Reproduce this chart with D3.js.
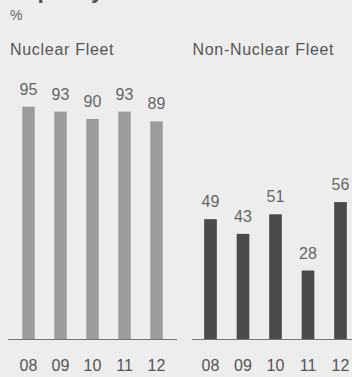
<!DOCTYPE html>
<html>
<head>
<meta charset="utf-8">
<script src="https://cdn.jsdelivr.net/npm/d3@7"></script>
<style>
  html, body { margin: 0; padding: 0; background: #ededed; }
  svg { display: block; }
  text { font-family: "Liberation Sans", Arial, sans-serif; }
</style>
</head>
<body>
<svg id="chart" width="352" height="377"></svg>
<script>
const years = ["08", "09", "10", "11", "12"];
const nuclearValues = [95, 93, 90, 93, 89];
const nonNuclearValues = [49, 43, 51, 28, 56];
const chartTitle = "Capacity Factors";
const unitLabel = "%";
const panelTitles = ["Nuclear Fleet", "Non-Nuclear Fleet"];

const svg = d3.select("#chart");
const W = 352, H = 377;

svg.append("rect").attr("width", W).attr("height", H).attr("fill", "#ededed");

// title clipped by the top edge, as in the reference
svg.append("text")
  .attr("x", 8).attr("y", -2.5)
  .attr("font-size", 23).attr("font-weight", "bold")
  .attr("fill", "#555")
  .text(chartTitle);

svg.append("text")
  .attr("x", 10).attr("y", 20)
  .attr("font-size", 14).attr("fill", "#666")
  .text(unitLabel);

const y = d3.scaleLinear().domain([0, 100]).range([339, 94.5]);

const panels = [
  { title: panelTitles[0], values: nuclearValues, color: "#9b9b9b",
    range: [12.5, 172.5], axis: [8, 177], titleX: 10 },
  { title: panelTitles[1], values: nonNuclearValues, color: "#4a4a4a",
    range: [194.25, 356.75], axis: [192, 352], titleX: 192.5 }
];

panels.forEach(p => {
  const x = d3.scaleBand().domain(years).range(p.range)
    .paddingInner(0.61).paddingOuter(0.305);
  const g = svg.append("g");

  g.append("text")
    .attr("x", p.titleX).attr("y", 55)
    .attr("font-size", 16).attr("letter-spacing", 0.7)
    .attr("fill", "#555")
    .text(p.title);

  g.selectAll("rect.bar").data(p.values).enter().append("rect")
    .attr("class", "bar")
    .attr("x", (d, i) => x(years[i]))
    .attr("width", x.bandwidth())
    .attr("y", d => y(d))
    .attr("height", d => y(0) - y(d))
    .attr("fill", p.color);

  g.selectAll("text.val").data(p.values).enter().append("text")
    .attr("class", "val")
    .attr("x", (d, i) => x(years[i]) + x.bandwidth() / 2)
    .attr("y", d => y(d) - 12)
    .attr("text-anchor", "middle")
    .attr("font-size", 16).attr("fill", "#666")
    .text(d => d);

  g.append("line")
    .attr("x1", p.axis[0]).attr("x2", p.axis[1])
    .attr("y1", y(0) + 0.5).attr("y2", y(0) + 0.5)
    .attr("stroke", "#777").attr("stroke-width", 1);

  const axis = d3.axisBottom(x).tickSize(0).tickPadding(0);
  const ag = g.append("g").attr("transform", `translate(0, ${y(0)})`).call(axis);
  ag.select(".domain").remove();
  ag.selectAll("text")
    .attr("y", 32).attr("dy", null)
    .attr("font-size", 16).attr("fill", "#555")
    .style("font-family", "'Liberation Sans', Arial, sans-serif");
});
</script>
</body>
</html>
